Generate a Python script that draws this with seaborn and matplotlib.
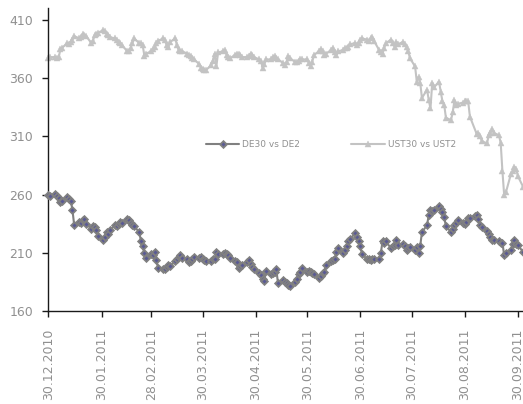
import numpy as np
import pandas as pd
import matplotlib
matplotlib.use("Agg")
import matplotlib.pyplot as plt
import seaborn as sns

nan = np.nan

# Business-day observations, 30.12.2010 - 03.10.2011 (spread in bp)
dates = pd.bdate_range("2010-12-30", "2011-10-03")

de_spread = [
    260, 259,
    261, 259, 257, 254, 255, 258, 256, 255, 247, 234, 237, 236, 238, 239, 235, 231, 233, 232, 230, 225, 221,
    224, 228, 226, 230, 234, 233, 235, 237, 236, 239, 238, 236, 234, 233, 228, 220, 216, 210, 206, 209,
    208, 211, 204, 197, 196, 196, 198, 200, 199, 203, 205, 207, 208, 206, 205, 202, 203, 205, 207, 206, 207, 205, 204,
    203, 203, 205, 205, 211, 209, 209, 210, 209, 208, 206, 203, 202, 197, 199, 200, 202, 204, 201, 198, 196,
    193, 191, 188, 186, 195, 192, 193, 194, 196, 184, 187, 185, 184, 183, 182, 185, 188, 192, 194, 197, 194, 195,
    194, 193, 192, 189, 190, 193, 194, 200, 203, 204, 205, 211, 214, 210, 213, 216, 220, 222, 227, 224, 220, 216,
    209, 205, 205, 204, 205, 205, 205, 210, 220, 219, 220, 214, 216, 217, 221, 217, 218, 216, 213, 214, 215,
    213, 215, 210, 216, 228, 234, 243, 247, 246, 247, 250, 248, 245, 241, 233, 228, 231, 234, 236, 238, 236, 235, 237,
    240, 240, 242, 243, 239, 234, 232, 229, 226, 224, 221, 221, 220, 219, 219, 208, 210, 213, 218, 221, 218, 217,
    211,
]

ust_spread = [
    377, 378,
    378, 377, 378, 385, 386, 390, 389, 391, 393, 396, 394, 395, 398, 397, 396, 390, 392, 397, 398, 399, 401,
    400, 398, 397, 395, 394, 393, 391, 390, 388, 383, 383, 386, 390, 394, 390, 390, 388, 379, 381, 383,
    385, 387, 390, 392, 394, 393, 388, 387, 391, 394, 388, 384, 383, 383, 381, 380, 379, 377, 376, 372, 369, 368, 367,
    367, 371, 375, 381, 370, 382, 383, 384, 380, 378, 377, 380, 381, 381, 380, 378, 378, 379, 381, 380, 378,
    376, 375, 369, 372, 376, 376, 378, 379, 377, 376, 373, 371, 374, 379, 377, 374, 374, 375, 376, 376, 376, 373,
    370, 374, 380, 383, 385, 383, 380, 381, 384, 386, 382, 380, 383, 384, 386, 386, 387, 389, 390, 388, 390, 393,
    394, 393, 392, 394, 395, 392, 384, 382, 381, 386, 390, 393, 390, 387, 391, 389, 391, 389, 387, 383, 377,
    370, 357, 361, 356, 343, 350, 341, 334, 356, 352, 357, 348, 340, 337, 326, 324, 331, 341, 337, 338, 339, 340, 340,
    340, 327, nan, 312, 313, 310, 306, 304, 311, 313, 316, 313, 311, 304, 280, 260, 262, 278, 280, 284, 282, 276,
    267,
]

series_names = ["DE30 vs DE2", "UST30 vs UST2"]

tick_dates = ["2010-12-30", "2011-01-30", "2011-02-28", "2011-03-30", "2011-04-30",
              "2011-05-30", "2011-06-30", "2011-07-30", "2011-08-30", "2011-09-30"]
tick_labels = ["30.12.2010", "30.01.2011", "28.02.2011", "30.03.2011", "30.04.2011",
               "30.05.2011", "30.06.2011", "30.07.2011", "30.08.2011", "30.09.2011"]
y_ticks = [160, 210, 260, 310, 360, 410]

sns.set_theme(style="white")
plt.rcParams["font.family"] = ["DejaVu Sans"]

fig = plt.figure(figsize=(5.23, 4.04), dpi=100)
ax = fig.add_axes([0.0927, 0.229, 0.9073, 0.751])

df = pd.DataFrame({"date": dates, "de": de_spread, "ust": ust_spread})
de_df = df[["date", "de"]].dropna()
ust_df = df[["date", "ust"]].dropna()

sns.lineplot(data=de_df, x="date", y="de", ax=ax, estimator=None,
             color="#808080", lw=1.5, marker="D", ms=3.4,
             mfc="#5a5a94", mec="#808080", mew=1.3,
             label=series_names[0], clip_on=False, zorder=3)
sns.lineplot(data=ust_df, x="date", y="ust", ax=ax, estimator=None,
             color="#c3c3c3", lw=1.5, marker="^", ms=5,
             mfc="#c3c3c3", mec="#c3c3c3", mew=0.3,
             label=series_names[1], clip_on=False, zorder=2)

start = pd.Timestamp("2010-12-30")
ax.set_xlim(start, start + pd.Timedelta(days=277))
ax.set_ylim(160, 420)

ax.set_yticks(y_ticks)
ax.set_xticks(pd.to_datetime(tick_dates))
ax.set_xticklabels(tick_labels, rotation=90, va="top", ha="center")
ax.set_xlabel("")
ax.set_ylabel("")

sns.despine(ax=ax)
for side in ("left", "bottom"):
    ax.spines[side].set_color("#1a1a1a")
    ax.spines[side].set_linewidth(1.0)

ax.tick_params(axis="both", which="major", bottom=True, left=True, direction="out",
               length=4, width=1, color="#1a1a1a", labelcolor="#909090", labelsize=9)
ax.tick_params(axis="y", pad=7)
ax.tick_params(axis="x", pad=8)

ax.legend(loc="center", bbox_to_anchor=(0.595, 0.549), ncol=2, frameon=False,
          fontsize=6.5, handlelength=3.7, columnspacing=5.7, handletextpad=0.3,
          labelcolor="#909090")

fig.savefig("out.png", dpi=100, facecolor="white")
